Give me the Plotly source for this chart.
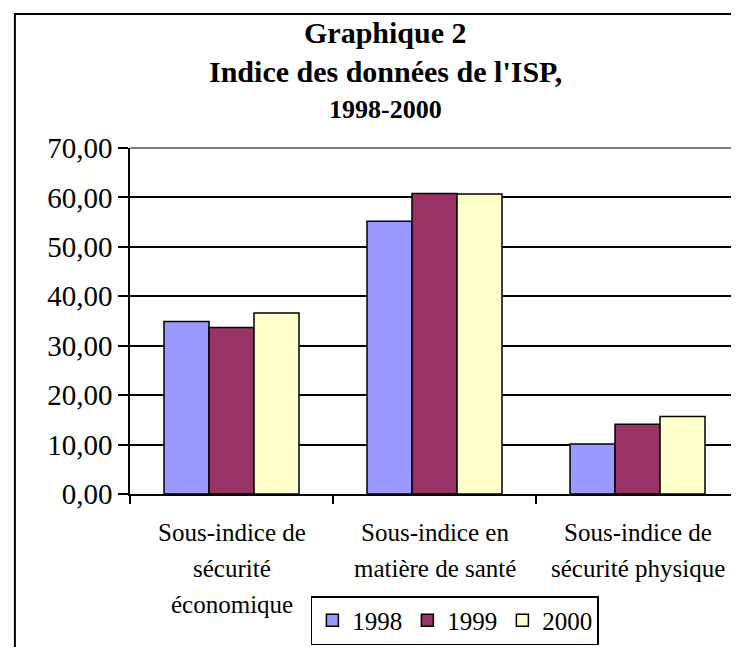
import plotly.graph_objects as go

categories = ["cat1", "cat2", "cat3"]
label_lines = [
    ["Sous-indice de", "sécurité", "économique"],
    ["Sous-indice en", "matière de santé"],
    ["Sous-indice de", "sécurité physique"],
]
years = ["1998", "1999", "2000"]
values_1998 = [34.9, 55.2, 10.1]
values_1999 = [33.7, 60.8, 14.1]
values_2000 = [36.6, 60.7, 15.7]
colors = ["#9999FF", "#993366", "#FFFFCC"]

FONT = "Liberation Serif, DejaVu Serif, serif"

fig = go.Figure()
for name, vals, col in zip(years, [values_1998, values_1999, values_2000], colors):
    fig.add_trace(go.Bar(
        x=categories, y=vals, name=name,
        marker=dict(color=col, line=dict(color="black", width=1.5))
    ))

fig.update_layout(
    width=739, height=647,
    margin=dict(l=122, r=8, t=140, b=161),
    paper_bgcolor="white", plot_bgcolor="white",
    font=dict(family=FONT, color="black"),
    separators=", ",
    barmode="group", bargap=0.335, bargroupgap=0,
    showlegend=True,
    legend=dict(
        orientation="h", x=0.297, xanchor="left", y=-0.295, yanchor="top",
        bordercolor="black", borderwidth=1.5,
        font=dict(size=25, family=FONT, color="black"),
        itemwidth=30, tracegroupgap=0,
    ),
)

fig.update_yaxes(
    range=[0, 70], dtick=10, tickformat=".2f",
    showgrid=True, gridcolor="black", gridwidth=1.5,
    showline=True, linecolor="black", linewidth=1.5,
    ticks="outside", ticklen=10, tickcolor="black", tickwidth=1.5,
    tickfont=dict(size=29, family=FONT, color="black"), zeroline=False,
)
fig.update_xaxes(
    showline=True, linecolor="black", linewidth=1.5,
    ticks="outside", tickson="boundaries", ticklen=8, tickcolor="black", tickwidth=1.5,
    showticklabels=False,
)

# category labels, one line at a time so the line spacing matches
for cat, lines in zip(categories, label_lines):
    for i, line in enumerate(lines):
        fig.add_annotation(
            x=cat, xref="x", y=-0.11 - i * 0.105, yref="paper",
            text=line, showarrow=False, yanchor="middle",
            font=dict(size=25, family=FONT, color="black"),
        )

# title, centred on the whole chart frame rather than the plot area
titles = [("Graphique 2", 30), ("Indice des données de l'ISP,", 30), ("1998-2000", 26)]
title_y = [1.335, 1.22, 1.11]
for (txt, size), ty in zip(titles, title_y):
    fig.add_annotation(
        x=0.42, xref="paper", y=ty, yref="paper", text=f"<b>{txt}</b>",
        showarrow=False, yanchor="middle",
        font=dict(size=size, family=FONT, color="black"),
    )

# grey plot area border (top and right), outer chart frame
fig.add_shape(type="line", xref="paper", yref="paper", x0=0, x1=1, y0=1, y1=1,
              line=dict(color="#808080", width=2))
fig.add_shape(type="line", xref="paper", yref="paper", x0=1, x1=1, y0=0, y1=1,
              line=dict(color="#808080", width=2))
fig.add_shape(type="rect", xref="paper", yref="paper",
              x0=-0.189, x1=1.008, y0=-0.6, y1=1.387,
              line=dict(color="black", width=2))

fig.write_html("out.html")
